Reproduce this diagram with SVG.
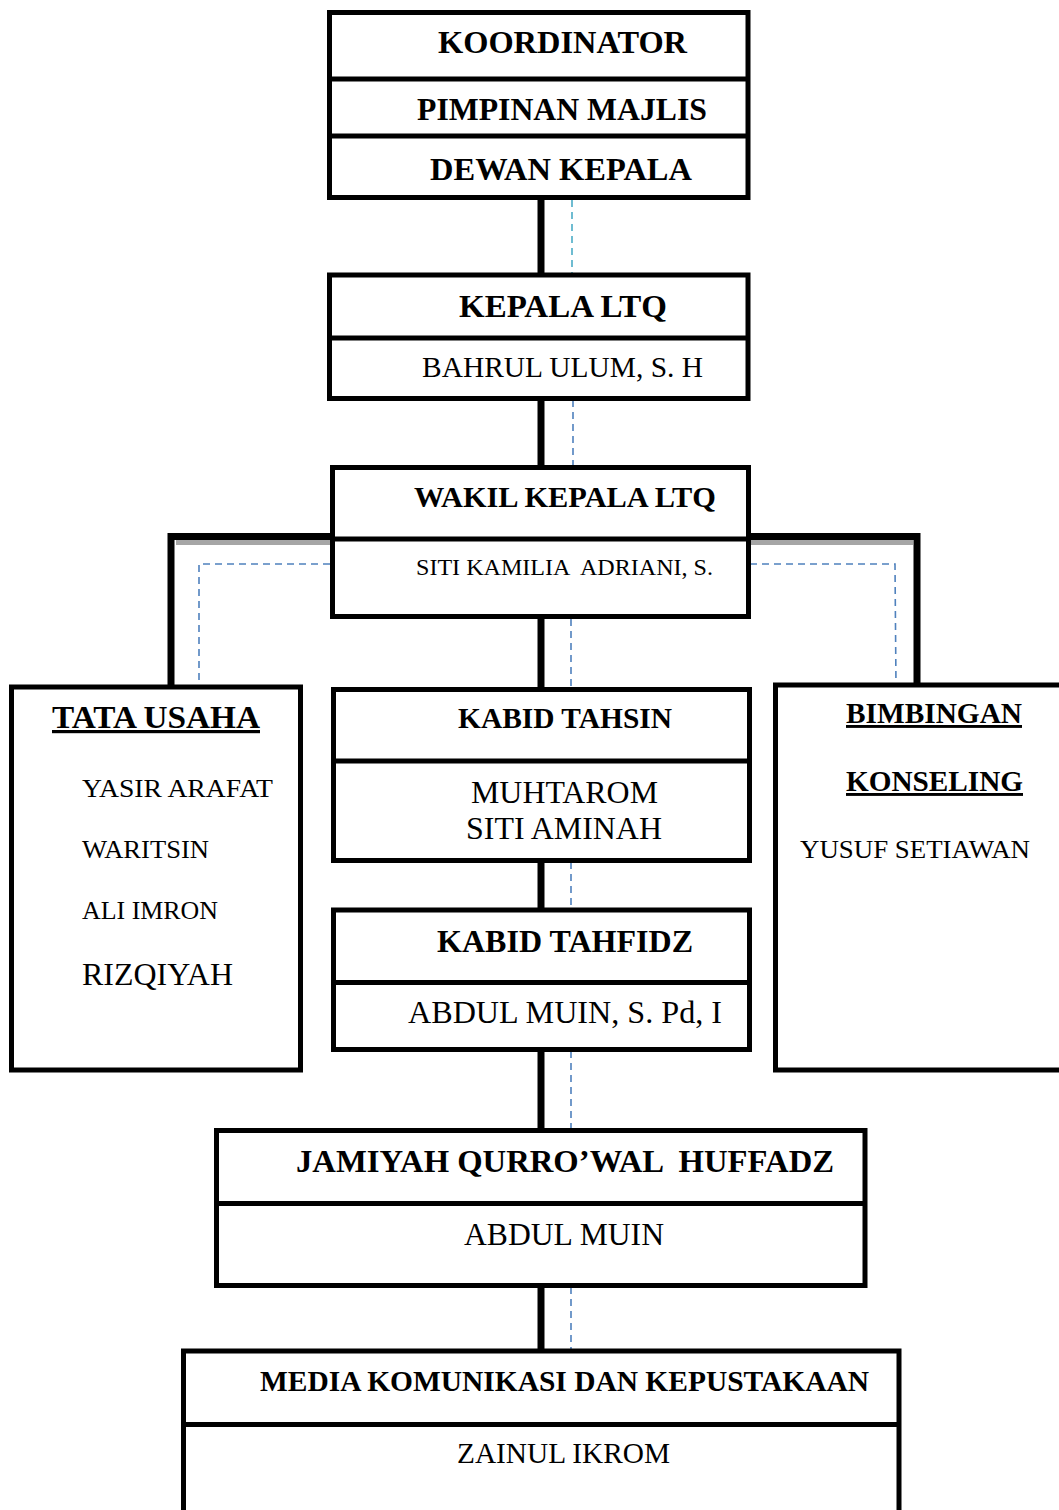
<svg xmlns="http://www.w3.org/2000/svg" width="1059" height="1510" viewBox="0 0 1059 1510">
<style>
.box{fill:#fff;stroke:#000;stroke-width:5}
.div{stroke:#000;stroke-width:5}
.b{font-family:"Liberation Serif","Times New Roman",serif;font-weight:bold;fill:#000}
.r{font-family:"Liberation Serif","Times New Roman",serif;font-weight:normal;fill:#000}
.thick{stroke:#000;stroke-width:7;fill:none}
.dash{stroke:#4F81BD;stroke-width:1.6;stroke-dasharray:7 5;fill:none}
.shadow{fill:#a6a6a6}
</style>
<rect width="1059" height="1510" fill="#fff"/>
<g id="connectors">
  <line class="thick" x1="541" y1="198" x2="541" y2="275"/>
  <line class="dash" x1="572" y1="200" x2="572" y2="273" style="stroke:#4BACC6"/>
  <line class="thick" x1="541" y1="398" x2="541" y2="468"/>
  <line class="dash" x1="573" y1="400" x2="573" y2="466"/>
  <rect class="shadow" x="176" y="540" width="156" height="5"/>
  <rect class="shadow" x="750" y="540" width="163" height="5"/>
  <polyline class="thick" points="332,536.5 171,536.5 171,687"/>
  <polyline class="thick" points="750,536.5 917,536.5 917,687"/>
  <polyline class="dash" points="330,564 199,564 199,686"/>
  <polyline class="dash" points="750,564 895,564 896,686"/>
  <line class="thick" x1="541" y1="617" x2="541" y2="690"/>
  <line class="dash" x1="571" y1="619" x2="571" y2="688"/>
  <line class="thick" x1="541" y1="860" x2="541" y2="910"/>
  <line class="dash" x1="571" y1="862" x2="571" y2="908"/>
  <line class="thick" x1="541" y1="1049" x2="541" y2="1131"/>
  <line class="dash" x1="571" y1="1051" x2="571" y2="1129"/>
  <line class="thick" x1="541" y1="1285" x2="541" y2="1351"/>
  <line class="dash" x1="571" y1="1287" x2="571" y2="1349"/>
</g>
<g id="koordinator">
  <rect class="box" x="329.5" y="12.5" width="418.5" height="185"/>
  <line class="div" x1="329.5" y1="79" x2="748" y2="79"/>
  <line class="div" x1="329.5" y1="136" x2="748" y2="136"/>
  <text class="b" x="438" y="53" font-size="32" textLength="249" lengthAdjust="spacingAndGlyphs">KOORDINATOR</text>
  <text class="b" x="417" y="120" font-size="32" textLength="290" lengthAdjust="spacingAndGlyphs">PIMPINAN MAJLIS</text>
  <text class="b" x="430" y="180" font-size="32" textLength="262" lengthAdjust="spacingAndGlyphs">DEWAN KEPALA</text>
</g>
<g id="kepala-ltq">
  <rect class="box" x="329.5" y="275" width="418.5" height="123.5"/>
  <line class="div" x1="329.5" y1="338" x2="748" y2="338"/>
  <text class="b" x="459" y="317" font-size="32" textLength="208" lengthAdjust="spacingAndGlyphs">KEPALA LTQ</text>
  <text class="r" x="422" y="377" font-size="29" textLength="281" lengthAdjust="spacingAndGlyphs">BAHRUL ULUM, S. H</text>
</g>
<g id="wakil-kepala">
  <rect class="box" x="332.5" y="467.5" width="416" height="149"/>
  <line class="div" x1="332.5" y1="539" x2="748.5" y2="539"/>
  <text class="b" x="414" y="507" font-size="29" textLength="302" lengthAdjust="spacingAndGlyphs">WAKIL KEPALA LTQ</text>
  <text class="r" x="416" y="575" font-size="24" xml:space="preserve" textLength="297" lengthAdjust="spacingAndGlyphs">SITI KAMILIA  ADRIANI, S.</text>
</g>
<g id="tata-usaha">
  <rect class="box" x="11.5" y="687" width="289" height="383"/>
  <text class="b" x="52" y="728" font-size="32" text-decoration="underline" textLength="208" lengthAdjust="spacingAndGlyphs">TATA USAHA</text>
  <text class="r" x="82" y="797" font-size="26" textLength="191" lengthAdjust="spacingAndGlyphs">YASIR ARAFAT</text>
  <text class="r" x="82" y="858" font-size="26" textLength="127" lengthAdjust="spacingAndGlyphs">WARITSIN</text>
  <text class="r" x="82" y="919" font-size="26" textLength="136" lengthAdjust="spacingAndGlyphs">ALI IMRON</text>
  <text class="r" x="82" y="985" font-size="31" textLength="151" lengthAdjust="spacingAndGlyphs">RIZQIYAH</text>
</g>
<g id="bimbingan-konseling">
  <rect class="box" x="775.5" y="685" width="300" height="385"/>
  <text class="b" x="846" y="723" font-size="29" text-decoration="underline" textLength="176" lengthAdjust="spacingAndGlyphs">BIMBINGAN</text>
  <text class="b" x="846" y="791" font-size="29" text-decoration="underline" textLength="177" lengthAdjust="spacingAndGlyphs">KONSELING</text>
  <text class="r" x="800" y="858" font-size="26" textLength="230" lengthAdjust="spacingAndGlyphs">YUSUF SETIAWAN</text>
</g>
<g id="kabid-tahsin">
  <rect class="box" x="333.5" y="689.5" width="416" height="171"/>
  <line class="div" x1="333.5" y1="761" x2="749.5" y2="761"/>
  <text class="b" x="458" y="728" font-size="29" textLength="214" lengthAdjust="spacingAndGlyphs">KABID TAHSIN</text>
  <text class="r" x="471" y="803" font-size="31" textLength="187" lengthAdjust="spacingAndGlyphs">MUHTAROM</text>
  <text class="r" x="466" y="839" font-size="31" textLength="196" lengthAdjust="spacingAndGlyphs">SITI AMINAH</text>
</g>
<g id="kabid-tahfidz">
  <rect class="box" x="333.5" y="910" width="416" height="139.5"/>
  <line class="div" x1="333.5" y1="982.5" x2="749.5" y2="982.5"/>
  <text class="b" x="437" y="952" font-size="32" textLength="256" lengthAdjust="spacingAndGlyphs">KABID TAHFIDZ</text>
  <text class="r" x="408" y="1023" font-size="32" textLength="314" lengthAdjust="spacingAndGlyphs">ABDUL MUIN, S. Pd, I</text>
</g>
<g id="jamiyah">
  <rect class="box" x="216.5" y="1130.5" width="648.5" height="155"/>
  <line class="div" x1="216.5" y1="1203.5" x2="865" y2="1203.5"/>
  <text class="b" x="296" y="1172" font-size="32" xml:space="preserve" textLength="538" lengthAdjust="spacingAndGlyphs">JAMIYAH QURRO’WAL  HUFFADZ</text>
  <text class="r" x="464" y="1245" font-size="31" textLength="200" lengthAdjust="spacingAndGlyphs">ABDUL MUIN</text>
</g>
<g id="media">
  <rect class="box" x="183.5" y="1351" width="715.5" height="200"/>
  <line class="div" x1="183.5" y1="1424.5" x2="899" y2="1424.5"/>
  <text class="b" x="260" y="1391" font-size="29" textLength="609" lengthAdjust="spacingAndGlyphs">MEDIA KOMUNIKASI DAN KEPUSTAKAAN</text>
  <text class="r" x="457" y="1463" font-size="29" textLength="213" lengthAdjust="spacingAndGlyphs">ZAINUL IKROM</text>
</g>
</svg>
